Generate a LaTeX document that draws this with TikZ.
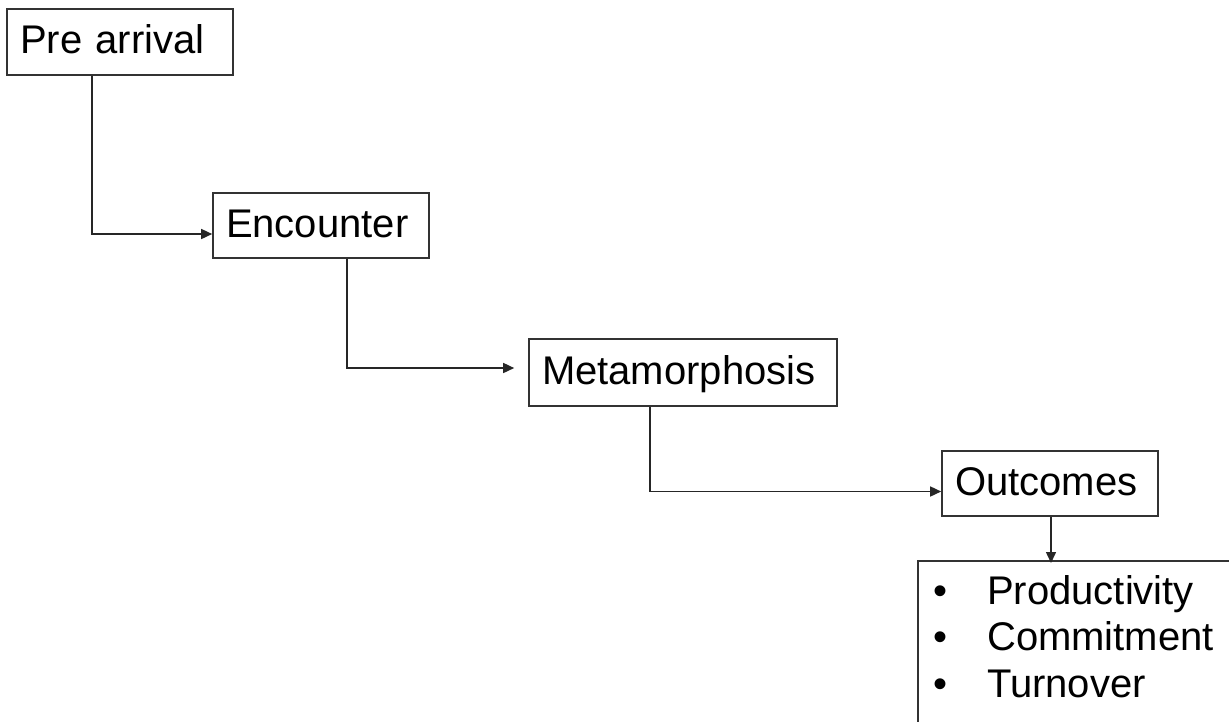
\documentclass[tikz,border=0pt]{standalone}
\usepackage{fontspec}
\setmainfont{Liberation Sans}
\usetikzlibrary{arrows.meta}
\begin{document}
\begin{tikzpicture}[x=1pt,y=-1pt,
  box/.style={draw=black!80, line width=1.6pt, inner xsep=13pt, inner ysep=0pt,
    text height=28pt, text depth=5pt, align=left,
    font=\fontsize{40}{46}\selectfont},
  conn/.style={draw=black!85, line width=1.5pt, -{Triangle[length=11pt,width=10pt]}}]
\useasboundingbox (0,0) rectangle (1229,721);
\clip (0,0) rectangle (1229,721);
\node[box, text width=200pt, minimum height=66pt] (pre) at (120,42) {Pre arrival};
\node[box, text width=190pt, minimum height=65pt] (enc) at (321,225.5) {Encounter};
\node[box, text width=282pt, minimum height=67pt] (meta) at (683,372.5) {Metamorphosis};
\node[box, text width=190pt, minimum height=65pt] (out) at (1050,483.5) {Outcomes};
\node[draw=black!80, line width=1.6pt, anchor=north west, minimum width=400pt, minimum height=200pt] (outlist) at (917,560) {};
\node[anchor=base west, inner sep=0pt, font=\fontsize{40}{46.5}\selectfont] (items) at (933,604)
  {\begin{tabular}[t]{@{}l@{}}\makebox[54pt][l]{•}Productivity\\ \makebox[54pt][l]{•}Commitment\\ \makebox[54pt][l]{•}Turnover\end{tabular}};
\draw[conn] ([xshift=-28pt]pre.south) |- ([yshift=-8.5pt]enc.west);
\draw[conn, shorten >=14pt] ([xshift=26pt]enc.south) |- ([yshift=4.5pt]meta.west);
\draw[conn] ([xshift=-33pt]meta.south) |- ([yshift=-8pt]out.west);
\draw[conn, shorten >=-3pt] ([xshift=1pt]out.south) -- ([xshift=1pt]out.south |- outlist.north);
\end{tikzpicture}
\end{document}
